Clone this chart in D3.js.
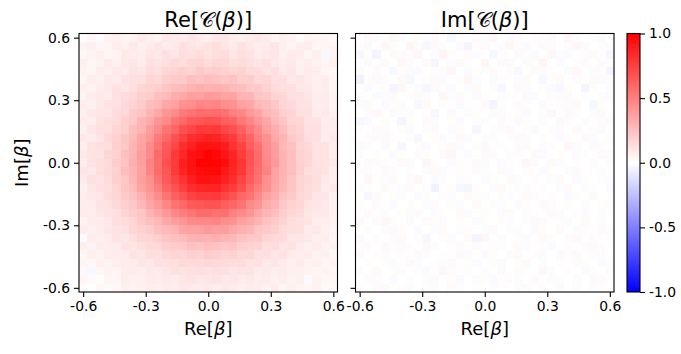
<!DOCTYPE html>
<html>
<head>
<meta charset="utf-8">
<script src="https://cdn.jsdelivr.net/npm/d3@7"></script>
<style>
  body { margin: 0; background: #fff; }
  text { font-family: "DejaVu Sans", sans-serif; fill: #000; }
</style>
</head>
<body>
<script>
// grid points (same for Re[beta] and Im[beta])
let betaAxis = [-0.6,-0.56,-0.52,-0.48,-0.44,-0.4,-0.36,-0.32,-0.28,-0.24,-0.2,-0.16,-0.12,-0.08,-0.04,0,
                0.04,0.08,0.12,0.16,0.2,0.24,0.28,0.32,0.36,0.4,0.44,0.48,0.52,0.56,0.6]

let axisTicks = [-0.6, -0.3, 0, 0.3, 0.6]
let axisTickLabels = ["-0.6", "-0.3", "0.0", "0.3", "0.6"]
let yTickLabels = ["-0.6", "-0.3", "0.0", "0.3", "0.6"]
let cbarTicks = [-1, -0.5, 0, 0.5, 1]
let cbarTickLabels = ["-1.0", "-0.5", "0.0", "0.5", "1.0"]

// Re[C(beta)] in hundredths, rows top (Im=0.6) to bottom (Im=-0.6)
let reRows = [
[1,3,-1,5,6,4,5,8,6,5,9,8,7,10,8,6,9,10,7,6,8,9,7,4,6,5,2,5,4,3,2],
[5,6,3,4,7,6,9,6,8,10,7,9,12,10,9,11,13,10,8,11,9,7,8,10,6,4,6,7,3,4,5],
[3,5,6,4,5,9,8,7,10,9,12,10,13,12,14,11,13,14,10,12,11,8,9,10,6,8,7,4,6,-3,5],
[6,4,5,8,6,9,10,8,12,11,13,15,13,16,17,14,16,15,13,14,12,10,12,9,8,9,6,7,5,4,6],
[5,4,7,6,9,8,11,10,14,13,16,17,19,17,21,19,20,18,16,18,14,14,11,13,9,10,6,8,7,4,3],
[4,7,6,9,8,11,12,12,16,15,19,21,21,25,23,26,24,22,24,19,20,15,16,12,13,9,10,8,6,7,4],
[6,5,8,9,11,10,13,16,18,19,23,26,27,30,32,30,31,30,27,26,21,21,18,14,12,12,9,9,6,7,4],
[5,8,9,8,12,14,15,19,20,25,27,32,34,38,37,40,39,36,36,30,29,23,22,17,16,12,12,10,7,8,5],
[7,6,9,11,11,15,18,20,26,28,35,37,43,44,48,47,48,44,43,37,35,28,26,22,16,15,11,11,7,8,5],
[6,9,10,10,14,15,21,23,30,34,42,45,52,54,58,57,58,56,50,47,40,36,28,25,19,17,12,12,8,9,6],
[8,7,11,13,14,19,21,29,33,42,46,55,59,65,66,69,68,63,61,53,48,40,35,27,23,17,16,11,11,7,8],
[6,10,12,12,17,19,26,30,39,45,55,60,69,72,78,77,78,72,69,62,53,47,37,32,26,19,17,12,12,8,8],
[9,8,10,15,18,23,27,36,41,52,59,69,75,82,84,88,86,80,77,67,61,50,43,34,29,21,18,13,12,8,9],
[7,11,13,13,19,22,30,36,46,54,65,72,82,87,93,93,92,89,80,74,63,56,44,38,28,24,17,15,11,11,8],
[9,11,11,16,18,25,30,39,46,58,66,78,84,93,95,99,97,91,86,76,68,58,46,39,30,25,18,16,11,11,7],
[7,11,13,14,20,23,32,38,49,57,69,77,88,93,99,99,98,95,86,79,67,59,47,40,30,25,18,16,11,11,9],
[10,9,13,15,18,26,30,37,48,58,66,78,86,92,95,97,97,90,85,78,66,57,49,37,30,25,19,13,12,11,7],
[8,12,11,14,19,22,29,38,44,55,65,73,80,88,93,93,92,87,82,73,64,56,44,36,30,23,17,15,13,9,7],
[6,10,12,13,17,23,27,36,42,50,61,68,75,82,85,86,86,80,76,69,59,51,43,34,28,23,16,14,12,8,9],
[8,9,10,14,16,21,24,31,39,45,54,62,67,74,77,77,78,72,68,60,55,46,37,32,24,21,15,14,10,10,6],
[7,8,11,11,15,19,21,28,35,40,47,55,59,65,66,68,68,63,60,55,46,42,33,29,21,18,16,11,10,9,6],
[8,7,10,11,12,17,20,23,30,35,40,47,51,54,58,58,56,56,50,46,42,34,29,25,19,16,14,10,9,9,6],
[5,8,8,9,13,14,16,22,25,28,35,38,41,46,47,47,48,44,43,37,34,30,24,21,18,13,12,11,7,7,6],
[7,6,8,10,11,12,16,18,20,25,28,30,36,37,37,40,38,38,34,31,29,23,21,19,14,13,12,8,9,6,5],
[-2,7,6,8,11,10,13,16,17,19,23,25,27,30,31,30,32,29,28,24,22,21,16,15,14,10,10,9,6,7,4],
[6,5,8,7,8,11,10,13,15,15,19,20,21,24,23,25,24,22,23,19,18,17,13,14,10,11,8,6,8,5,6],
[3,6,5,7,8,8,11,10,13,12,15,17,16,19,18,20,19,17,18,15,16,12,13,10,11,8,7,8,5,6,3],
[4,3,6,5,7,8,8,10,9,12,12,13,15,14,14,16,15,14,13,14,11,12,9,10,8,6,8,5,6,4,5],
[2,-3,3,5,4,7,8,7,9,8,10,12,11,12,13,11,13,12,10,11,11,8,9,7,8,6,6,5,4,5,3],
[3,2,1,4,4,7,6,6,8,8,9,8,10,11,9,10,11,9,10,8,9,7,8,6,7,5,6,-2,5,3,4],
[1,0,3,2,3,6,5,6,7,6,8,7,9,8,8,9,7,9,8,6,8,7,5,7,4,6,4,3,5,2,3]
]

// Im[C(beta)] in hundredths, same layout
let imRows = [
[0,2,-1,1,3,-2,0,1,-1,2,0,-3,1,0,2,-1,3,0,-2,1,0,1,-1,2,0,3,-1,0,1,-2,0],
[1,-2,0,3,1,0,4,-1,-3,2,1,0,-2,-4,1,2,0,-1,3,1,-2,0,2,-1,0,1,3,-2,0,1,-1],
[-3,1,-4,0,2,-1,1,3,0,-2,4,1,0,2,-1,0,-3,1,0,2,1,-2,0,3,-1,-2,0,1,2,0,-3],
[0,-2,1,2,0,3,-1,0,2,-4,0,-1,2,1,0,3,0,2,-2,0,-1,1,4,0,-2,0,1,-1,0,2,1],
[2,0,-1,0,-3,1,2,-2,0,1,-1,3,0,-2,1,-1,2,0,1,-3,0,2,-1,1,0,-2,3,0,-1,1,-4],
[-5,1,2,-1,0,2,-3,0,1,2,-2,0,1,3,-1,0,-2,1,0,-1,2,0,-3,1,2,0,-1,0,2,-2,1],
[0,-2,0,1,-4,3,0,-1,-3,2,1,-2,0,-1,2,0,1,-3,0,2,-1,0,1,-2,-3,1,0,-4,1,0,-1],
[1,0,-2,-1,2,0,1,2,-1,0,3,-1,2,0,-2,1,0,-1,1,0,2,-2,0,1,-1,2,0,1,0,-1,2],
[-1,2,0,-2,1,-1,0,-3,2,0,1,0,-2,1,0,2,-4,1,0,-1,1,0,-2,0,1,-1,2,0,-3,1,0],
[0,-1,3,0,-2,1,-1,0,1,-3,0,2,0,-1,1,0,2,-1,0,1,-2,0,1,3,0,-2,1,0,-1,2,0],
[-3,-2,0,1,0,-4,1,0,2,-1,0,1,-2,0,1,-1,0,2,0,-2,1,0,-1,0,2,1,0,-1,0,1,-2],
[1,0,2,-1,0,1,-2,0,-1,2,0,-1,1,0,-3,0,1,-1,2,0,1,-2,0,1,-1,0,2,0,1,-1,0],
[0,1,-1,2,1,0,1,-3,0,1,-2,0,2,-1,0,1,-1,0,1,2,-1,0,1,0,-2,1,0,2,-1,0,1],
[2,-1,0,-2,0,-3,0,1,-2,0,1,2,-1,0,1,-2,0,1,0,-1,2,0,-1,1,0,3,-1,0,-2,1,0],
[-1,0,1,0,-2,1,0,-1,1,0,-2,3,0,-1,0,2,-1,0,1,-1,0,2,-2,0,1,0,-1,1,0,2,-1],
[0,2,-1,1,0,2,-2,0,3,1,0,-1,1,0,2,-1,0,-2,1,0,3,-1,0,2,-1,0,1,0,-1,0,2],
[1,-1,0,2,-1,0,1,0,-1,2,-2,0,1,0,-1,1,0,2,-1,0,1,0,-2,1,0,-1,2,0,1,-1,0],
[0,3,1,-1,2,0,-1,3,0,-2,1,0,-1,1,0,-2,1,0,2,-1,0,1,0,-1,2,0,-2,1,0,1,-1],
[-1,1,0,2,0,-1,2,0,1,-5,0,1,-3,-4,1,0,-1,2,0,1,-1,0,1,0,-1,2,0,-1,1,0,-2],
[0,-3,2,0,1,-1,0,-2,1,0,1,-1,0,2,1,-1,0,1,-1,0,2,-1,0,1,0,-2,1,0,2,0,1],
[1,0,-1,1,-2,0,1,0,-1,2,0,1,-1,0,2,0,1,-1,0,-2,1,0,2,-1,0,1,0,-1,0,1,-1],
[0,2,1,-1,0,1,-1,2,0,-1,1,0,2,-1,0,1,0,-1,2,0,-1,1,0,2,-1,0,1,-2,0,1,0],
[2,0,-1,3,1,0,-2,0,2,1,-1,0,1,0,-2,1,0,1,-1,0,1,2,-1,0,1,-1,0,2,1,-1,0],
[0,1,0,-1,2,1,0,-2,0,-1,2,0,-1,1,0,-1,2,0,1,-1,0,-2,1,0,2,0,-1,1,0,2,-1],
[-2,0,1,0,-1,2,0,1,-3,0,1,-1,0,2,-4,3,0,-1,0,1,-1,0,2,1,0,-1,2,0,-1,0,1],
[1,-1,0,2,1,-1,1,0,2,-1,0,1,-1,0,2,0,-1,1,0,2,-1,0,1,-2,0,1,0,-1,2,1,0],
[2,0,1,-1,0,1,0,2,-1,0,1,0,2,-1,0,-2,1,0,-1,2,0,1,-1,0,-2,1,2,0,1,-1,0],
[0,1,0,1,-1,0,2,-1,0,1,-1,2,0,1,-1,0,1,-2,0,1,2,0,-1,0,1,0,-1,1,0,-2,1],
[-1,0,2,0,1,-1,0,1,-2,0,3,-1,0,1,0,-1,0,2,0,-1,1,0,3,-1,0,1,0,-2,1,0,-1],
[0,-1,1,0,-2,0,1,0,-1,2,0,1,-2,0,-1,1,-2,0,1,-1,0,2,0,-1,1,0,-1,0,2,-1,0],
[1,0,-1,2,0,1,-1,0,1,-2,0,2,-1,0,1,0,-1,1,0,-1,2,0,1,0,-2,0,1,0,-1,1,0]
]

let svg = d3.select("body").append("svg")
    .attr("width", 681)
    .attr("height", 354)

let color = d3.scaleLinear().domain([-1, 0, 1]).range(["#0000ff", "#ffffff", "#ff0000"])

let plotTop = 33.5
let plotSize = 258.5
let half = 0.02

let panels = [
    {left: 79, rows: reRows, title: "Re", showYLabels: true},
    {left: 355.5, rows: imRows, title: "Im", showYLabels: false}
]

panels.forEach(p => {
    let x = d3.scaleLinear().domain([-0.62, 0.62]).range([p.left, p.left + plotSize])
    let y = d3.scaleLinear().domain([-0.62, 0.62]).range([plotTop + plotSize, plotTop])

    let cells = []
    p.rows.forEach((row, r) => {
        row.forEach((v, c) => {
            cells.push({re: betaAxis[c], im: betaAxis[betaAxis.length - 1 - r], v: v / 100})
        })
    })

    let g = svg.append("g")
    g.selectAll("rect.cell")
        .data(cells)
        .enter()
        .append("rect")
        .attr("class", "cell")
        .attr("x", d => x(d.re - half))
        .attr("y", d => y(d.im + half))
        .attr("width", d => x(d.re + half) - x(d.re - half))
        .attr("height", d => y(d.im - half) - y(d.im + half))
        .attr("fill", d => color(d.v))
        .attr("shape-rendering", "crispEdges")

    // frame
    g.append("rect")
        .attr("x", p.left)
        .attr("y", plotTop)
        .attr("width", plotSize)
        .attr("height", plotSize)
        .attr("fill", "none")
        .attr("stroke", "#000")
        .attr("stroke-width", 1.1)

    let xAxis = d3.axisBottom(x)
        .tickValues(axisTicks)
        .tickFormat((d, i) => axisTickLabels[i])
        .tickSizeOuter(0)
        .tickSize(5)
        .tickPadding(4)
    let xg = g.append("g")
        .attr("transform", `translate(0, ${plotTop + plotSize})`)
        .call(xAxis)
    xg.select(".domain").remove()

    let yAxis = d3.axisLeft(y)
        .tickValues(axisTicks)
        .tickFormat((d, i) => p.showYLabels ? yTickLabels[i] : "")
        .tickSizeOuter(0)
        .tickSize(5)
        .tickPadding(4)
    let yg = g.append("g")
        .attr("transform", `translate(${p.left}, 0)`)
        .call(yAxis)
    yg.select(".domain").remove()

    g.selectAll(".tick line").attr("stroke", "#000").attr("stroke-width", 1.1)
    g.selectAll(".tick text")
        .style("font-family", "DejaVu Sans")
        .style("font-size", "13.9px")
        .attr("fill", "#000")

    // title
    let t = g.append("text")
        .attr("x", p.left + plotSize / 2)
        .attr("y", 27)
        .attr("text-anchor", "middle")
        .style("font-size", "21px")
    t.append("tspan").text(p.title + "[")
    t.append("tspan").text("\u{1D49E}")
    t.append("tspan").text("(")
    t.append("tspan").style("font-style", "italic").text("\u03B2")
    t.append("tspan").text(")]")

    // x label
    let xl = g.append("text")
        .attr("x", p.left + plotSize / 2)
        .attr("y", 335)
        .attr("text-anchor", "middle")
        .style("font-size", "18px")
    xl.append("tspan").text("Re[")
    xl.append("tspan").style("font-style", "italic").text("\u03B2")
    xl.append("tspan").text("]")
})

// y label
let yl = svg.append("text")
    .attr("transform", `translate(28, ${plotTop + plotSize / 2}) rotate(-90)`)
    .attr("text-anchor", "middle")
    .style("font-size", "18px")
yl.append("tspan").text("Im[")
yl.append("tspan").style("font-style", "italic").text("\u03B2")
yl.append("tspan").text("]")

// colorbar
let cbLeft = 627, cbWidth = 13
let cScale = d3.scaleLinear().domain([-1, 1]).range([plotTop + plotSize, plotTop])
let grad = svg.append("defs").append("linearGradient")
    .attr("id", "bwr")
    .attr("x1", "0").attr("y1", "1").attr("x2", "0").attr("y2", "0")
grad.selectAll("stop")
    .data([-1, 0, 1])
    .enter()
    .append("stop")
    .attr("offset", d => (d + 1) / 2)
    .attr("stop-color", d => color(d))
svg.append("rect")
    .attr("x", cbLeft)
    .attr("y", plotTop)
    .attr("width", cbWidth)
    .attr("height", plotSize)
    .attr("fill", "url(#bwr)")
    .attr("stroke", "#000")
    .attr("stroke-width", 1.1)

let cbAxis = d3.axisRight(cScale)
    .tickValues(cbarTicks)
    .tickFormat((d, i) => cbarTickLabels[i])
    .tickSizeOuter(0)
    .tickSize(5)
    .tickPadding(4)
let cbg = svg.append("g")
    .attr("transform", `translate(${cbLeft + cbWidth}, 0)`)
    .call(cbAxis)
cbg.select(".domain").remove()
cbg.selectAll(".tick line").attr("stroke", "#000").attr("stroke-width", 1.1)
cbg.selectAll(".tick text")
    .style("font-family", "DejaVu Sans")
    .style("font-size", "13.9px")
    .attr("fill", "#000")
</script>
</body>
</html>
